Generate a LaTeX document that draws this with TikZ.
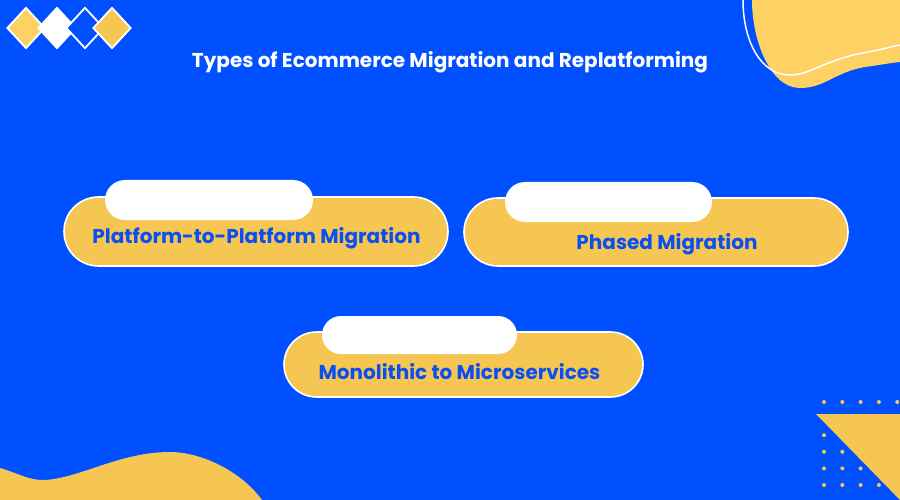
\documentclass[tikz,border=0pt]{standalone}
\usepackage{fontspec}
\setmainfont{Poppins}
\usetikzlibrary{shapes.geometric,shapes.misc}

\definecolor{bgblue}{HTML}{0050FF}
\definecolor{pillyellow}{HTML}{F5C652}
\definecolor{blobyellow}{HTML}{FDD163}
\definecolor{textblue}{HTML}{0A4FF2}

\tikzset{
  pill/.style={rounded rectangle, draw=white, line width=1.6pt, fill=pillyellow, inner sep=0pt},
  tab/.style={rounded rectangle, fill=white, inner sep=0pt},
  pilltext/.style={text=textblue, font=\fontsize{20}{24}\selectfont\bfseries, inner sep=0pt, anchor=base},
  gem/.style={diamond, draw=white, line width=1.8pt, minimum width=38pt, minimum height=41pt, inner sep=0pt}
}

\begin{document}
\begin{tikzpicture}[x=1pt, y=-1pt]
      \useasboundingbox (0,0) rectangle (900,500);
      \fill[bgblue] (0,0) rectangle (900,500);

      % corner blobs
      \fill[blobyellow] (752,0) .. controls (752,40) and (770,88) .. (800,88)
            .. controls (825,88) and (835,72) .. (865,67)
            .. controls (880,65) and (890,63) .. (900,62) -- (900,0) -- cycle;
      \draw[white, line width=1.5pt] (743,0) .. controls (743,40) and (760,75) .. (790,75)
            .. controls (810,75) and (825,60) .. (863,53)
            .. controls (880,50) and (890,47) .. (900,45);
      \fill[pillyellow] (0,468) .. controls (15,472) and (30,481) .. (45,480)
            .. controls (80,478) and (120,452) .. (170,452)
            .. controls (200,452) and (240,470) .. (262,500) -- (0,500) -- cycle;

      % dots and triangle
      \foreach \i in {0,...,4}
        \foreach \j in {0,...,5}
          \fill[pillyellow] (824+18.3*\i, 402+16.6*\j) circle (2pt);
      \fill[pillyellow] (816,414) -- (900,414) -- (900,500) -- cycle;

      % diamonds
      \node[gem, fill=blobyellow] (gem1) at (26,28) {};
      \node[gem, fill=white] (gem2) at (57,28) {};
      \node[gem, fill=bgblue] (gem3) at (85,28) {};
      \node[gem, fill=pillyellow] (gem4) at (112,28) {};

      \node[text=white, font=\fontsize{20}{24}\selectfont\bfseries, inner sep=0pt, anchor=base] (title) at (450,68)
            {Types of Ecommerce Migration and Replatforming};

      % pills
      \node[pill, minimum width=384pt, minimum height=69pt] (p2p) at (256,231.5) {};
      \node[tab, minimum width=208pt, minimum height=40pt] (p2ptab) at (209,200) {};
      \node[pilltext] (p2ptext) at (256.5,243) {Platform-to-Platform Migration};

      \node[pill, minimum width=384pt, minimum height=68pt] (phased) at (656,232) {};
      \node[tab, minimum width=207pt, minimum height=40pt] (phasedtab) at (608.5,202) {};
      \node[pilltext] (phasedtext) at (667,249) {Phased Migration};

      \node[pill, minimum width=359pt, minimum height=65pt] (mono) at (463.5,364.5) {};
      \node[tab, minimum width=195pt, minimum height=38pt] (monotab) at (419.5,335) {};
      \node[pilltext] (monotext) at (459.5,379) {Monolithic to Microservices};
\end{tikzpicture}
\end{document}
